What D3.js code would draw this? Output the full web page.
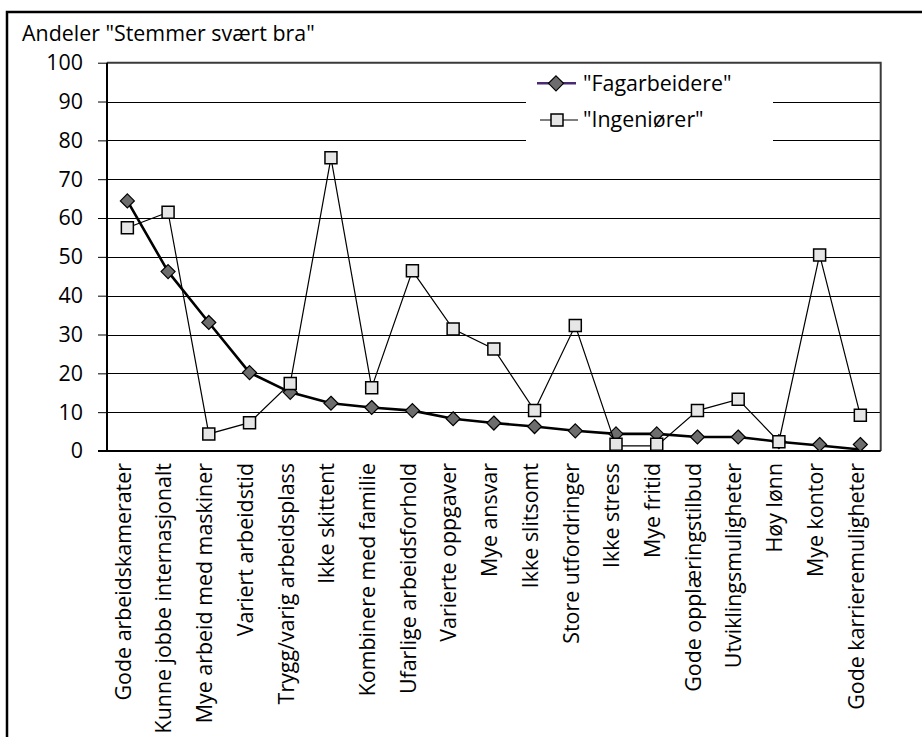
<!DOCTYPE html>
<html>
<head>
<meta charset="utf-8">
<script src="https://cdn.jsdelivr.net/npm/d3@7"></script>
<style>
  html, body { margin: 0; padding: 0; background: #fff; overflow: hidden; }
  svg { display: block; }
  text { font-family: "Open Sans", "Noto Sans", sans-serif; fill: #000; }
</style>
</head>
<body>
<svg id="chart" width="922" height="737"></svg>
<script>
const categories = [
  "Gode arbeidskamerater",
  "Kunne jobbe internasjonalt",
  "Mye arbeid med maskiner",
  "Variert arbeidstid",
  "Trygg/varig arbeidsplass",
  "Ikke skittent",
  "Kombinere med familie",
  "Ufarlige arbeidsforhold",
  "Varierte oppgaver",
  "Mye ansvar",
  "Ikke slitsomt",
  "Store utfordringer",
  "Ikke stress",
  "Mye fritid",
  "Gode opplæringstilbud",
  "Utviklingsmuligheter",
  "Høy lønn",
  "Mye kontor",
  "Gode karrieremuligheter"
];
const fagarbeidere = [64.4, 46.2, 33.1, 20.2, 15.1, 12.3, 11.2, 10.4, 8.3, 7.2, 6.3, 5.2, 4.4, 4.4, 3.6, 3.6, 2.4, 1.4, 0.4];
const ingeniorer   = [57.5, 61.5, 4.4, 7.3, 17.4, 75.5, 16.3, 46.4, 31.4, 26.3, 10.4, 32.3, 1.3, 1.3, 10.4, 13.3, 2.4, 50.5, 9.2];
const yTicks = [0, 10, 20, 30, 40, 50, 60, 70, 80, 90, 100];
const seriesNames = ['"Fagarbeidere"', '"Ingeniører"'];
const yAxisTitle = 'Andeler "Stemmer svært bra"';

const svg = d3.select("#chart");
const FS = 21.4;

// outer chart frame
svg.append("rect")
  .attr("x", 7).attr("y", 12).attr("width", 1000).attr("height", 800)
  .attr("fill", "#fff").attr("stroke", "#000").attr("stroke-width", 2.5);

const plot = { left: 107, right: 880.7, top: 62.7, bottom: 451 };

const x = d3.scalePoint().domain(categories).range([plot.left, plot.right]).padding(0.5);
const y = d3.scaleLinear().domain([0, 100]).range([plot.bottom, plot.top]);

// gridlines
svg.append("g")
  .selectAll("line")
  .data(yTicks.filter(t => t > 0 && t < 100))
  .join("line")
  .attr("x1", plot.left).attr("x2", plot.right)
  .attr("y1", d => Math.round(y(d)) + 0.5).attr("y2", d => Math.round(y(d)) + 0.5)
  .attr("stroke", "#000").attr("stroke-width", 1);

// plot area border top & right
svg.append("path")
  .attr("d", `M${plot.left},${y(100)}H${plot.right}V${plot.bottom}`)
  .attr("fill", "none").attr("stroke", "#3a3a3a").attr("stroke-width", 2);

// legend background
svg.append("rect")
  .attr("x", 526).attr("y", 64).attr("width", 247).attr("height", 95)
  .attr("fill", "#fff");

// y axis
const yAxis = d3.axisLeft(y).tickValues(yTicks).tickSize(9).tickPadding(15).tickFormat(d3.format("d"));
const yg = svg.append("g").attr("transform", `translate(${plot.left},0)`).call(yAxis);
yg.select(".domain").attr("stroke", "#000").attr("stroke-width", 2)
  .attr("d", `M0,${y(100)}V${y(0)}`);
yg.selectAll(".tick line").attr("stroke", "#000").attr("stroke-width", 1);
yg.selectAll(".tick text").attr("font-size", FS).attr("font-family", '"Open Sans", sans-serif');

// x axis
const xAxis = d3.axisBottom(x).tickSize(0).tickPadding(0);
const xg = svg.append("g").attr("transform", `translate(0,${plot.bottom})`).call(xAxis);
xg.select(".domain").attr("stroke", "#000").attr("stroke-width", 2)
  .attr("d", `M${plot.left - 9},0H${plot.right}`);
xg.selectAll(".tick text")
  .attr("font-size", FS).attr("font-family", '"Open Sans", sans-serif')
  .attr("text-anchor", "end")
  .attr("transform", "rotate(-90)")
  .attr("x", -12).attr("y", 0).attr("dy", "0.13em");

// y axis title
svg.append("text")
  .attr("x", 22).attr("y", 41)
  .attr("font-size", FS)
  .text(yAxisTitle);

const diamond = s => `M0,${-s}L${s},0L0,${s}L${-s},0Z`;
const square = s => `M${-s},${-s}H${s}V${s}H${-s}Z`;
const clampY = (v, h) => Math.min(y(v), y(0) - h);

// series 1: Fagarbeidere
const line = d3.line().x((d, i) => x(categories[i])).y(d => y(d));
svg.append("path").datum(fagarbeidere)
  .attr("d", line).attr("fill", "none").attr("stroke", "#000").attr("stroke-width", 2.6)
  .attr("stroke-linejoin", "round");
svg.append("g").selectAll("path").data(fagarbeidere).join("path")
  .attr("transform", (d, i) => `translate(${x(categories[i])},${clampY(d, 6.5)})`)
  .attr("d", diamond(7)).attr("fill", "#6d6d6d").attr("stroke", "#000").attr("stroke-width", 1.2);

// series 2: Ingeniører
svg.append("path").datum(ingeniorer)
  .attr("d", line).attr("fill", "none").attr("stroke", "#000").attr("stroke-width", 1.2);
svg.append("g").selectAll("path").data(ingeniorer).join("path")
  .attr("transform", (d, i) => `translate(${x(categories[i])},${clampY(d, 6.8)})`)
  .attr("d", square(6)).attr("fill", "#e6e6e6").attr("stroke", "#000").attr("stroke-width", 1.5);

// legend
const lg = svg.append("g");
const legendY = [83.3, 120];
lg.append("line").attr("x1", 537).attr("x2", 576).attr("y1", legendY[0]).attr("y2", legendY[0])
  .attr("stroke", "#4a2a72").attr("stroke-width", 2.4);
lg.append("path").attr("transform", `translate(556,${legendY[0]})`)
  .attr("d", diamond(7.5)).attr("fill", "#6d6d6d").attr("stroke", "#000").attr("stroke-width", 1.2);
lg.append("line").attr("x1", 540).attr("x2", 578).attr("y1", legendY[1]).attr("y2", legendY[1])
  .attr("stroke", "#000").attr("stroke-width", 1.2);
lg.append("path").attr("transform", `translate(557,${legendY[1]})`)
  .attr("d", square(6)).attr("fill", "#e6e6e6").attr("stroke", "#000").attr("stroke-width", 1.5);
lg.selectAll("text.leg").data(seriesNames).join("text")
  .attr("class", "leg")
  .attr("x", 583).attr("y", (d, i) => legendY[i]).attr("dy", "0.35em")
  .attr("font-size", FS)
  .text(d => d);
</script>
</body>
</html>
